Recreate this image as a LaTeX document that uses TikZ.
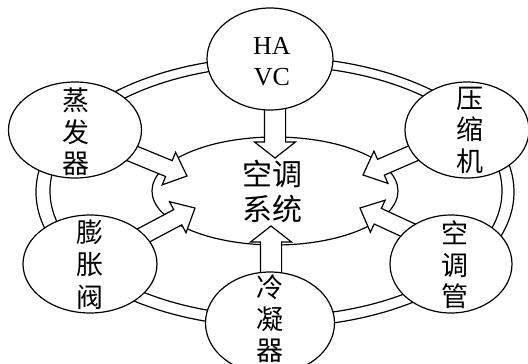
\documentclass[tikz,border=0pt]{standalone}
\usepackage{fontspec}
\setmainfont{Liberation Serif}
\newfontfamily\cjk{Noto Sans CJK SC}
\usetikzlibrary{shapes.geometric,shapes.arrows,calc}
\pgfdeclarelayer{bg}
\pgfsetlayers{bg,main}
\begin{document}
\begin{tikzpicture}[x=1pt,y=-1pt,
  lw/.style={line width=1.2pt},
  sat/.style={ellipse, draw, lw, fill=white, inner sep=0pt},
  lbl/.style={font=\cjk\fontsize{27}{31.5}\selectfont, align=center, inner sep=0pt},
  barrow/.style={single arrow, draw, lw, fill=white, inner xsep=0pt, outer sep=0pt,
    single arrow head indent=0pt, sloped, allow upside down, anchor=tip, pos=1},
  diagarrow/.style={barrow, minimum height=70pt, inner ysep=8pt,
    single arrow head extend=9pt, single arrow tip angle=84},
  vertarrow/.style={barrow, minimum height=58pt, inner ysep=10pt,
    single arrow head extend=10pt, single arrow tip angle=104}]
\useasboundingbox (0,0) rectangle (528,364);
\clip (0,0) rectangle (528,364);

% satellites
\node[sat, minimum width=126pt, minimum height=102pt] (havc) at (270,59) {};
\node[sat, minimum width=133pt, minimum height=96pt] (evap) at (75,130) {};
\node[sat, minimum width=124pt, minimum height=96pt] (comp) at (467,130) {};
\node[sat, minimum width=134pt, minimum height=98pt] (expv) at (90,264) {};
\node[sat, minimum width=122pt, minimum height=98pt] (pipe) at (451,264) {};
\node[sat, minimum width=129pt, minimum height=102pt] (cond) at (270,323) {};

% labels
\node[font=\fontsize{26}{31}\selectfont, align=center, inner sep=0pt] (havcT) at (272,62) {HA\\VC};
\node[lbl] (evapT) at (76,132) {蒸\\发\\器};
\node[lbl] (compT) at (470,130) {压\\缩\\机};
\node[lbl, font=\cjk\fontsize{27}{32.5}\selectfont] (expvT) at (90,264.5) {膨\\胀\\阀};
\node[lbl] (pipeT) at (455,265) {空\\调\\管};
\node[lbl] (condT) at (270,319) {冷\\凝\\器};

% arrow tips
\coordinate (tH) at (275,158);
\coordinate (tB) at (271,226);
\coordinate (tA1) at (187,176);
\coordinate (tA2) at (363,175);
\coordinate (tA3) at (195,208);
\coordinate (tA4) at (360,208);

\begin{pgfonlayer}{bg}
  % ring
  \draw[lw] (275,192) ellipse [x radius=239pt, y radius=135pt];
  \draw[lw] (276,191) ellipse [x radius=226pt, y radius=125pt];
  % centre
  \node[ellipse, draw, lw, fill=white, inner sep=0pt, minimum width=246pt, minimum height=108pt] (ctr) at (275,191) {};
  \node[font=\cjk\fontsize{30}{35}\selectfont, align=center, inner sep=0pt] (ctrT) at (272,191.5) {空调\\系统};
  % block arrows
  \path (tH |- havc) -- (tH) node[vertarrow] (aH) {};
  \path (tB |- cond) -- (tB) node[vertarrow] (aB) {};
  \path (evap) -- (tA1) node[diagarrow] (a1) {};
  \path (comp) -- (tA2) node[diagarrow] (a2) {};
  \path (expv) -- (tA3) node[diagarrow] (a3) {};
  \path ($(pipe)+(0,-14)$) -- (tA4) node[diagarrow] (a4) {};
\end{pgfonlayer}
\end{tikzpicture}
\end{document}
